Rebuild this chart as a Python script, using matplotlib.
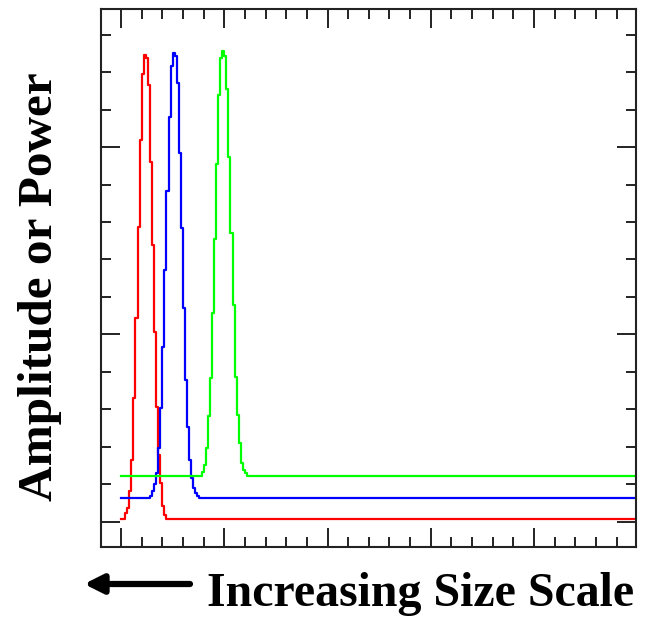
import numpy as np
import matplotlib
matplotlib.use("Agg")
import matplotlib.pyplot as plt
from matplotlib.ticker import MultipleLocator

# sample grid (size scale, arbitrary units) and step between samples
step = 0.1
x_end = 25.0

# baselines
red_base = 0.07
blue_base = 0.63
green_base = 1.23

# peak samples, starting at the given x
red_start = 0.2
red_peak = [0.23, 0.37, 0.81, 1.65, 3.30, 5.43, 7.87, 10.2, 11.96, 12.45,
            12.37, 11.65, 9.61, 7.39, 5.07, 3.07, 1.79, 1.03, 0.41, 0.19]

blue_start = 1.4
blue_peak = [0.69, 0.83, 1.01, 1.31, 1.97, 3.04, 4.67, 6.72, 8.83, 10.8,
             12.16, 12.5, 12.43, 11.7, 9.84, 7.84, 5.71, 3.79, 2.53, 1.65,
             1.17, 0.91, 0.77, 0.69]

green_start = 3.9
green_peak = [1.34, 1.52, 1.97, 2.81, 3.83, 5.57, 7.54, 9.55, 11.39, 12.39,
              12.57, 12.43, 11.54, 9.73, 7.71, 5.79, 3.87, 2.85, 2.09, 1.58,
              1.39, 1.30]

xs = np.arange(0, x_end + step / 2, step)


def series(start, peak, base):
    y = np.full(len(xs), base)
    i0 = int(round(start / step))
    y[i0:i0 + len(peak)] = peak
    return y


plt.rcParams['font.family'] = ['Liberation Serif', 'DejaVu Serif']

fig = plt.figure(figsize=(6.47, 6.18), dpi=100)
ax = fig.add_axes([0.1561, 0.1154, 0.983 - 0.1561, 0.985 - 0.1154])

lw = 1.6
ax.plot(xs, series(red_start, red_peak, red_base), color='#ff0000', lw=lw, drawstyle='steps-post')
ax.plot(xs, series(blue_start, blue_peak, blue_base), color='#0000ff', lw=lw, drawstyle='steps-post')
ax.plot(xs, series(green_start, green_peak, green_base), color='#00ff00', lw=lw, drawstyle='steps-post')

ax.set_xlim(-0.97, 24.94)
ax.set_ylim(-0.667, 13.68)

ax.xaxis.set_major_locator(MultipleLocator(5))
ax.xaxis.set_minor_locator(MultipleLocator(1))
ax.yaxis.set_major_locator(MultipleLocator(5))
ax.yaxis.set_minor_locator(MultipleLocator(1))
ax.tick_params(which='both', direction='in', top=True, right=True,
               labelbottom=False, labelleft=False, width=1.4, color='#222222')
ax.tick_params(which='major', length=13.5)
ax.tick_params(which='minor', length=7)
for s in ax.spines.values():
    s.set_linewidth(1.5)
    s.set_color('#222222')

fig.text(40 / 647, 1 - 287 / 618, 'Amplitude or Power', rotation=90,
         ha='center', va='center', fontsize=35.5, fontweight='bold')
fig.text(207 / 647, 1 - 606 / 618, 'Increasing Size Scale',
         ha='left', va='baseline', fontsize=34.5, fontweight='bold')

ax.annotate('', xy=(84, 618 - 584), xytext=(190, 618 - 584),
            xycoords='figure pixels', textcoords='figure pixels',
            arrowprops=dict(arrowstyle='-|>', lw=4.5, color='black',
                            mutation_scale=28, shrinkA=0, shrinkB=0))

fig.savefig('out.png', dpi=100)
